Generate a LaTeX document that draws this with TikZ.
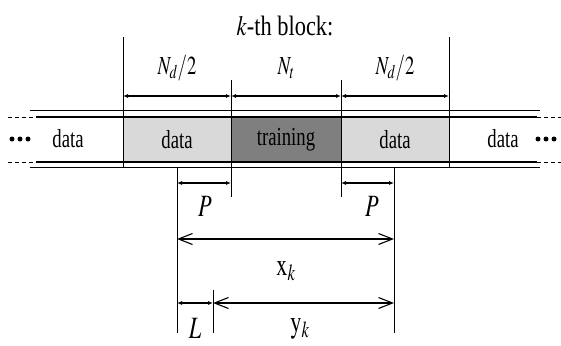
\documentclass[tikz,border=0pt]{standalone}
\usepackage{mathptmx}
\usepackage{fontspec}
\setmainfont{Liberation Serif}
\usetikzlibrary{arrows.meta}
\newcommand{\sq}[1]{\scalebox{0.72}[1]{#1}}
\newcommand{\sqt}[1]{\scalebox{0.8}[1]{#1}}
\definecolor{lightfill}{HTML}{D9D9D9}
\definecolor{darkfill}{HTML}{7F7F7F}
\tikzset{
  lbl/.style={inner sep=0pt, font=\fontsize{26}{30}\selectfont},
  biglbl/.style={inner sep=0pt, font=\fontsize{31}{35}\selectfont},
  titlelbl/.style={inner sep=0pt, font=\fontsize{28}{32}\selectfont},
  thin line/.style={line width=0.9pt, black},
  band/.style={line width=1.3pt, black},
  smalldim/.style={line width=1.1pt, {Latex[length=5pt,width=4pt]}-{Latex[length=5pt,width=4pt]}},
  bigdim/.style={line width=1.1pt, {Straight Barb[length=14pt,width=11pt]}-{Straight Barb[length=14pt,width=11pt]}},
  blockbox/.style={draw=none, inner sep=0pt, minimum height=45pt},
}
\begin{document}
\begin{tikzpicture}[x=1pt,y=-1pt]
\useasboundingbox (0,0) rectangle (561,345);
% blocks
\node[blockbox, fill=lightfill, minimum width=108pt] (b1) at (177,139.5) {};
\node[blockbox, fill=darkfill, minimum width=110pt] (b2) at (286,139.5) {};
\node[blockbox, fill=lightfill, minimum width=108pt] (b3) at (395,139.5) {};
% band lines
\coordinate (ot1) at (30,110); \coordinate (ot2) at (540,110);
\coordinate (ob1) at (30,167); \coordinate (ob2) at (540,167);
\coordinate (it1) at (36,117); \coordinate (it2) at (537,117);
\coordinate (ib1) at (36,162); \coordinate (ib2) at (537,162);
\coordinate (dl1) at (8,117); \coordinate (dl2) at (8,162);
\coordinate (dr1) at (561,117); \coordinate (dr2) at (561,162);
\draw[thin line] (ot1) -- (ot2);
\draw[thin line] (ob1) -- (ob2);
\draw[band] (it1) -- (it2);
\draw[band] (ib1) -- (ib2);
\draw[thin line, dash pattern=on 4pt off 3pt] (dl1) -- (it1);
\draw[thin line, dash pattern=on 4pt off 3pt] (dl2) -- (ib1);
\draw[thin line, dash pattern=on 4pt off 3pt] (it2) -- (dr1);
\draw[thin line, dash pattern=on 4pt off 3pt] (ib2) -- (dr2);
% vertical marker lines
\coordinate (v1t) at (123,37); \coordinate (v1b) at (123,167);
\coordinate (v2t) at (231,80); \coordinate (v2b) at (231,197);
\coordinate (v3t) at (341,80); \coordinate (v3b) at (341,197);
\coordinate (v4t) at (449,37); \coordinate (v4b) at (449,167);
\coordinate (v5t) at (177,167); \coordinate (v5b) at (177,333);
\coordinate (v6t) at (394,167); \coordinate (v6b) at (394,333);
\coordinate (v7t) at (213,290); \coordinate (v7b) at (213,333);
\foreach \v in {1,...,7} \draw[thin line] (v\v t) -- (v\v b);
% dimension arrows
\coordinate (n1) at (123,96); \coordinate (n2) at (231,96);
\coordinate (n3) at (341,96); \coordinate (n4) at (449,96);
\draw[smalldim] (n1) -- (n2);
\draw[smalldim] (n2) -- (n3);
\draw[smalldim] (n3) -- (n4);
\coordinate (p1a) at (177,183); \coordinate (p1b) at (231,183);
\coordinate (p2a) at (341,183); \coordinate (p2b) at (394,183);
\draw[smalldim] (p1a) -- (p1b);
\draw[smalldim] (p2a) -- (p2b);
\coordinate (xa) at (177,239); \coordinate (xb) at (394,239);
\draw[bigdim] (xa) -- (xb);
\coordinate (la) at (177,303); \coordinate (lb) at (213,303); \coordinate (yb) at (394,303);
\draw[smalldim] (la) -- (lb);
\draw[bigdim] (lb) -- (yb);
% dots
\foreach \x in {12,20,28} \fill (\x,139) circle (2.5pt);
\foreach \x in {538,546,554} \fill (\x,139) circle (2.5pt);
% labels
\node[titlelbl] (title) at (285,26) {\sqt{$k$-th block:}};
\node[lbl] (nd1) at (177,68) {\sq{$N_d/2$}};
\node[lbl] (nt) at (286,68) {\sq{$N_t$}};
\node[lbl] (nd2) at (395,68) {\sq{$N_d/2$}};
\node[lbl] (d0) at (68,139) {\sq{data}};
\node[lbl] (d1) at (b1) {\sq{data}};
\node[lbl] (tr) at (b2) {\sq{training}};
\node[lbl] (d3) at (b3) {\sq{data}};
\node[lbl] (d4) at (503,139) {\sq{data}};
\node[biglbl] (p1) at (205,206) {\sq{$P$}};
\node[biglbl] (p2) at (372,206) {\sq{$P$}};
\node[biglbl] (xk) at (286,271) {\sq{$\mathrm{x}_k$}};
\node[biglbl] (ll) at (195,328) {\sq{$L$}};
\node[biglbl, anchor=south] (yk) at (300,339) {\sq{$\mathrm{y}_k$}};
\end{tikzpicture}
\end{document}
